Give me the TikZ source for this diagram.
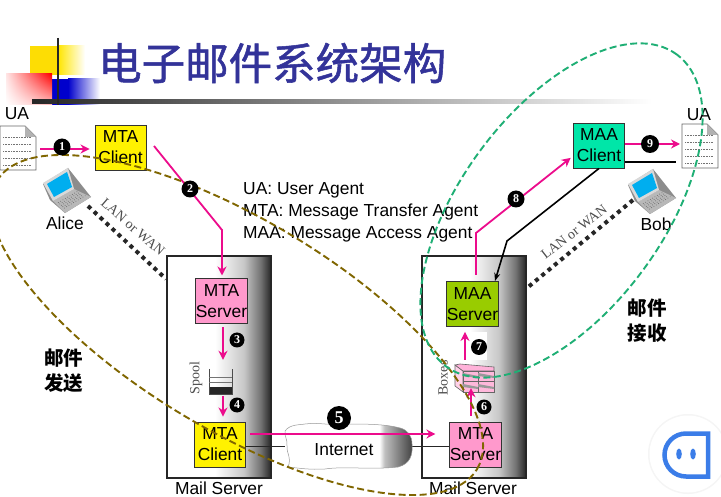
\documentclass[tikz,border=0pt]{standalone}
\usepackage{fontspec}
\setmainfont{Liberation Sans}
\newfontfamily\cjkfont{Noto Sans CJK SC}
\newfontfamily\titlefont[FakeBold=1.2]{Noto Sans CJK SC}
\newfontfamily\serifnum{Liberation Serif}
\usetikzlibrary{arrows.meta,calc,shadings}
\definecolor{pinkline}{HTML}{EC0C8C}
\definecolor{olivedash}{HTML}{806600}
\definecolor{greendash}{HTML}{1FAF75}
\definecolor{titleblue}{HTML}{333399}
\definecolor{mtapink}{HTML}{FF99CC}
\definecolor{maagreen}{HTML}{99CC00}
\definecolor{maateal}{HTML}{00E6A8}
\definecolor{iconblue}{HTML}{3B7DE8}
\definecolor{screenblue}{HTML}{00AEEF}
\pgfdeclarehorizontalshading{srvshade}{100bp}{color(0bp)=(white);color(48bp)=(white);color(62bp)=(black!22);color(70bp)=(black!55);color(75bp)=(black!85);color(100bp)=(black!85)}
\pgfdeclarehorizontalshading{cloudshade}{100bp}{color(0bp)=(white);color(62bp)=(white);color(64bp)=(black!25);color(75bp)=(black!75);color(100bp)=(black!75)}
\pgfdeclarehorizontalshading{rulefade}{100bp}{color(0bp)=(black!85);color(25bp)=(black!85);color(70bp)=(white);color(100bp)=(white)}
\tikzset{
  x=1pt,y=-1pt,
  txt/.style={font=\fontsize{17.4}{21}\selectfont,inner sep=0pt,align=center,text=black},
  agent/.style={draw=black!80,line width=0.9pt,minimum width=51pt,minimum height=45pt,inner sep=0pt,align=center,font=\fontsize{17.4}{21}\selectfont},
  server/.style={draw=black!85,line width=1.6pt,shading=srvshade,minimum width=104pt,minimum height=222pt,inner sep=0pt},
  pinkarrow/.style={draw=pinkline,line width=1.8pt,-{Stealth[length=9pt,width=9pt]}},
  blackarrow/.style={draw=black,line width=1.6pt,-{Stealth[length=8pt,width=6pt]}},
  plainblack/.style={draw=black!85,line width=1pt},
  link/.style={draw=black!85,line width=4pt,dash pattern=on 4pt off 4.2pt},
  badge/.style={circle,fill=black,text=white,inner sep=0pt,font=\serifnum\bfseries\fontsize{12}{12}\selectfont,minimum size=17pt},
  greylabel/.style={text=black!70,inner sep=0pt,font=\serifnum\fontsize{14}{14}\selectfont},
  cjklabel/.style={inner sep=0pt,align=center,font=\cjkfont\bfseries\fontsize{19.5}{25}\selectfont},
  olivering/.style={draw=olivedash,line width=1.9pt,dash pattern=on 7pt off 3.5pt},
  greenring/.style={draw=greendash,line width=1.9pt,dash pattern=on 7pt off 3.5pt},
  laptop/.pic={
    \fill[black!45] (43,184)--(68,168)--(91,197)--(65,213)--(50,200)--cycle;
    \fill[black!28] (53,201)--(74,189)--(91,197)--(65,213)--cycle;
    \fill[black!15] (43,183)--(68,168)--(74,189)--(53,201)--cycle;
    \fill[screenblue] (47,184)--(67,172)--(72,187)--(54,197)--cycle;
    \foreach \t in {0.2,0.35,0.5,0.65,0.8}
      \draw[black!60,line width=0.7pt,dotted] ($(56,201)!\t!(66,210)$) -- ($(75,190)!\t!(88,197)$);
  },
  mailpage/.pic={
    \draw[black!60,fill=white,line width=0.9pt] (0,0)--(25,0)--(36,11)--(36,44)--(0,44)--cycle;
    \fill[black!30] (25,0)--(36,11)--(25,11)--cycle;
    \foreach \yy in {11,18,25,32,39}
      \draw[black!55,line width=0.6pt,dash pattern=on 1pt off 0.6pt] (3,\yy)--(31,\yy);
  }
}
\begin{document}
\begin{tikzpicture}
\useasboundingbox (0,0) rectangle (721,497);
\fill[white] (0,0) rectangle (721,497);
% logo
\shade[left color=yellow!80!orange,right color=white] (58,46) rectangle (85,75);
\fill[yellow!80!orange] (30,46) rectangle (58,75);
\shade[left color=blue!80!black,right color=white] (68,79) rectangle (100,105);
\fill[blue!80!black] (52,79) rectangle (68,105);
\shade[lower left=white,upper right=red,upper left=red!10,lower right=red!25] (6,74) rectangle (52,105);
\shade[shading=rulefade] (32,100) rectangle (721,104);
\draw[black!85,line width=2.6pt] (58,38) -- (58,105);
\node[inner sep=0pt,text=titleblue,anchor=west,font=\titlefont\fontsize{43.5}{44}\selectfont] (title) at (98,63) {电子邮件系统架构};
% servers
\node[server] (srvL) at (219,367) {};
\node[server] (srvR) at (474,367) {};
\fill[white] (461,332) rectangle (487,360);
\node[txt] (mailL) at (219,488.5) {Mail Server};
\node[txt] (mailR) at (473,488.5) {Mail Server};
% user agents
\pic (pageL) at (0,126) {mailpage};
\pic (pageR) at (682,124) {mailpage};
\node[txt] (uaL) at (17,114) {UA};
\node[txt] (uaR) at (699,115) {UA};
\coordinate (docL) at (40,149);
\coordinate (docR) at (680,144);
\coordinate (docRb) at (676,162);
% agents
\node[agent,fill=yellow] (mtaA) at (120.5,147.5) {MTA\\Client};
\node[agent,fill=maateal] (maaC) at (599,145.5) {MAA\\Client};
\node[agent,fill=mtapink] (mtaS1) at (221.5,301) {MTA\\Server};
\node[agent,fill=yellow] (mtaC2) at (220,444.5) {MTA\\Client};
\node[agent,fill=maagreen] (maaS) at (472.5,304) {MAA\\Server};
\node[agent,fill=mtapink] (mtaS2) at (475.5,444.5) {MTA\\Server};
% laptops
\pic (lapA) at (0,0) {laptop};
\pic (lapB) at (585,1) {laptop};
\node[txt] (alice) at (65,223) {Alice};
\node[txt] (bob) at (656,224) {Bob};
% links
\coordinate (alicePort) at (88,206);
\coordinate (bobPort) at (633,200);
\coordinate (srvLport) at (166,279);
\coordinate (srvRport) at (527,288);
\draw[link] (alicePort) -- (srvLport);
\draw[link] (bobPort) -- (srvRport);
\node[greylabel,rotate=-41] (lanL) at (133,227) {LAN or WAN};
\node[greylabel,rotate=38] (lanR) at (574,232) {LAN or WAN};
% spool
\node[greylabel,rotate=90] (spoolT) at (196,378) {Spool};
\node[inner sep=0pt,minimum width=23pt,minimum height=25pt] (spool) at (220.5,381.5) {};
\fill[black!85] (209,387) rectangle (232,394);
\draw[black!70,line width=0.8pt] (209,369)--(209,394)--(232,394)--(232,369);
\draw[black!55,line width=0.7pt] (209,377)--(232,377) (209,382)--(232,382);
% boxes
\node[greylabel,rotate=90] (boxT) at (443,378) {Boxes};
\node[inner sep=0pt,minimum width=39pt,minimum height=28pt] (boxes) at (474.5,378) {};
\draw[black!60,fill=mtapink!45,line width=0.6pt] (455,365)--(463,371)--(463,392)--(455,386)--cycle;
\draw[black!60,fill=mtapink!75,line width=0.6pt] (455,365)--(460,364)--(494,367)--(494,371)--(463,371)--cycle;
\draw[black!60,fill=mtapink!70,line width=0.7pt] (463,371) rectangle (494,392);
\draw[black!60,line width=0.7pt] (478,371)--(478,392) (463,381)--(494,381);
\fill[black!40] (463,373)--(478,376)--(478,378)--(463,376)--cycle (478,373)--(494,376)--(494,378)--(478,376)--cycle
  (463,384)--(478,387)--(478,389)--(463,387)--cycle (478,384)--(494,387)--(494,389)--(478,387)--cycle;
% internet
\draw[plainblack] (mtaC2.east |- 0,446) -- (285,446);
\draw[plainblack] (412,446) -- (mtaS2.west |- 0,446);
\node[inner sep=0pt,minimum width=129pt,minimum height=46pt] (cloud) at (347.5,447) {};
\shade[shading=cloudshade,draw=black!40,line width=0.5pt] (285,431) .. controls (290,424) and (300,425) .. (305,424)
  .. controls (320,422) and (330,426) .. (345,424) .. controls (365,424) and (385,424) .. (400,428)
  .. controls (408,430) and (412,436) .. (412,444) .. controls (413,455) and (410,464) .. (398,467)
  .. controls (370,470) and (345,466) .. (325,469) .. controls (310,470) and (298,468) .. (288,467)
  .. controls (292,458) and (286,452) .. (287,446) .. controls (288,440) and (284,436) .. (285,431) -- cycle;
\fill[white] (312,433) rectangle (380,464);
\node[txt] (inet) at (344,450) {Internet};
% connectors
\draw[pinkarrow,shorten >=5pt] (docL) -- (mtaA.west |- docL);
\coordinate (tail2) at (154,146);
\coordinate (bend2) at (222,230);
\coordinate (mtaS1top) at (222,278.5);
\draw[pinkarrow,shorten >=3pt] (tail2) -- (bend2) -- (mtaS1top);
\draw[pinkarrow,shorten <=3pt,shorten >=9pt] (mtaS1.south -| 223,0) -- (spool.north -| 223,0);
\draw[pinkarrow,shorten <=2pt,shorten >=5pt] (spool.south -| 223,0) -- (mtaC2.north -| 223,0);
\draw[pinkarrow,shorten >=14pt] (250,434) -- (mtaS2.west |- 0,434);
\draw[pinkarrow,shorten <=6pt,shorten >=-4pt] (mtaS2.north -| 471,0) -- (boxes.south -| 471,0);
\draw[pinkarrow,shorten <=4pt,shorten >=5pt] (boxes.north -| 465,0) -- (maaS.south -| 465,0);
\coordinate (bend8) at (476,233);
\draw[pinkarrow,shorten >=3pt] (476,275) -- (bend8) -- (maaC.west |- 0,156);
\draw[pinkarrow] (maaC.east |- docR) -- (docR);
\draw[plainblack,line width=1.5pt,draw=black] (maaC.east |- docRb) -- (docRb);
\coordinate (bendB) at (507,241);
\draw[blackarrow] (maaC.south) -- (bendB) -- (495,281);
% description
\node[txt,anchor=west,align=left] (legend) at (243,212) {UA: User Agent\\[1pt]MTA: Message Transfer Agent\\[1pt]MAA: Message Access Agent};
\node[cjklabel] (sendT) at (64,371) {邮件\\发送};
\node[cjklabel] (recvT) at (647,321) {邮件\\接收};
% rings
\draw[olivering,rotate around={-31:(237,325)}] (237,325) ellipse [x radius=280pt,y radius=105pt];
\draw[greenring,rotate around={53.5:(561.5,210.5)}] (561.5,210.5) ellipse [x radius=194pt,y radius=101pt];
% badges
\node[badge] (b1) at (62,147) {1};
\node[badge] (b2) at (190,189) {2};
\node[badge,minimum size=15pt] (b3) at (237,340) {3};
\node[badge,minimum size=15pt] (b4) at (237,405) {4};
\node[badge,minimum size=24pt,font=\serifnum\bfseries\fontsize{18}{18}\selectfont] (b5) at (339,418) {5};
\node[badge,minimum size=15pt] (b6) at (484,407) {6};
\node[badge,minimum size=16pt] (b7) at (479,347) {7};
\node[badge] (b8) at (516,199) {8};
\node[badge,minimum size=18pt] (b9) at (650,144) {9};
% floating button
\fill[black!4] (688,454) circle (40pt);
\fill[white] (688,454) circle (38.5pt);
\draw[iconblue,line width=4.5pt] (708,433.5) -- (686,433.5) arc[start angle=90,end angle=270,radius=21.5pt] -- (708,476.5) -- cycle;
\fill[iconblue] (679,454) ellipse [x radius=2.8pt,y radius=5.5pt];
\fill[iconblue] (693,454) ellipse [x radius=2.8pt,y radius=5.5pt];
\end{tikzpicture}
\end{document}
